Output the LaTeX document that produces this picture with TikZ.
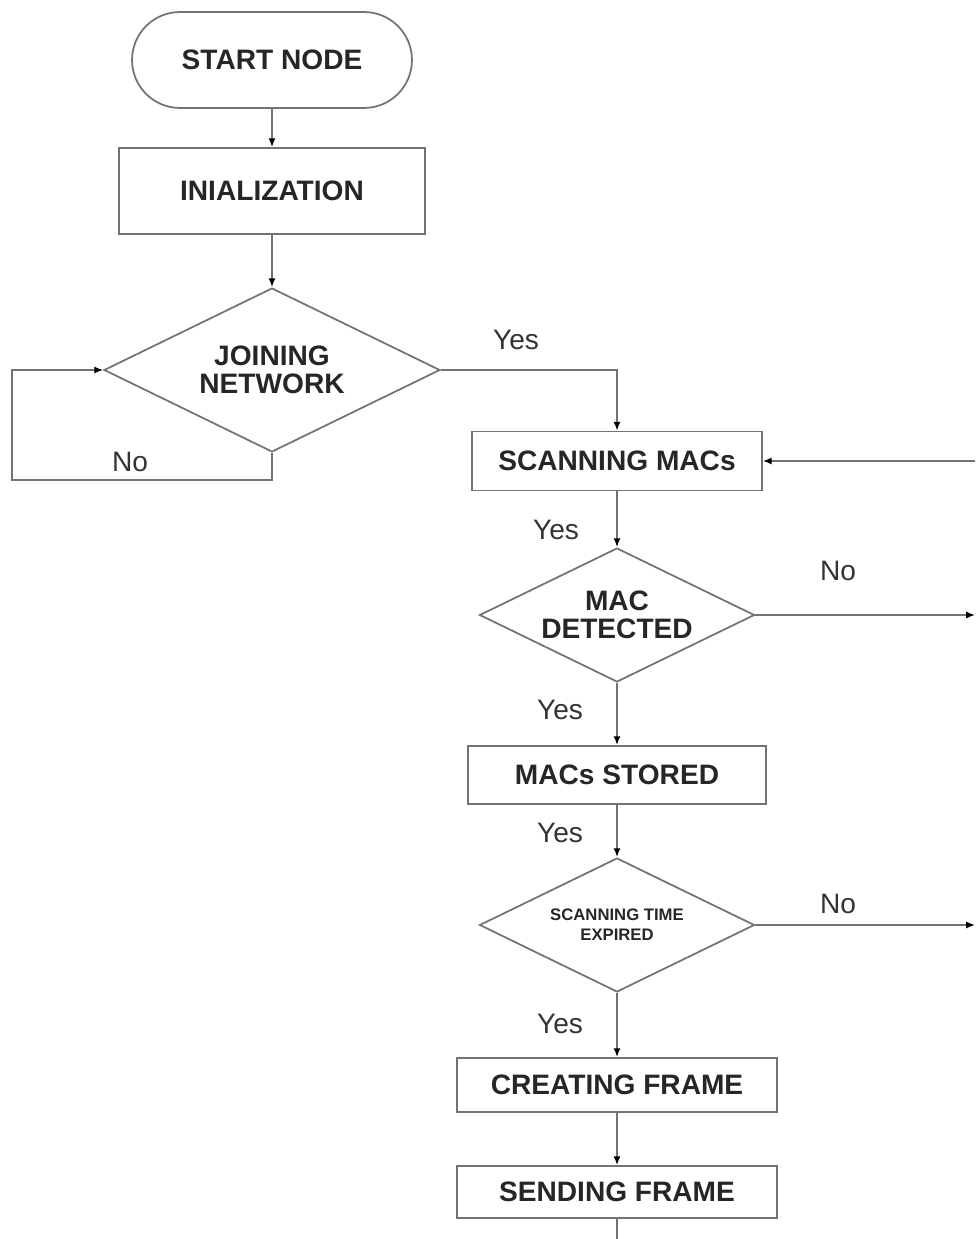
\documentclass[tikz,border=0pt]{standalone}
\usepackage{fontspec}
\setmainfont{Liberation Sans}
\usetikzlibrary{shapes.geometric,shapes.misc,arrows.meta}
\definecolor{linegray}{gray}{0.45}
\tikzset{
  box/.style={draw=linegray, line width=1pt, text=black!85, inner sep=0pt,
    font=\bfseries\fontsize{16}{16}\selectfont},
  proc/.style={box, rectangle},
  decide/.style={box, diamond, aspect=2.05, align=center},
  link/.style={draw=linegray, line width=0.9pt},
  flow/.style={link, -{Latex[length=5pt,width=4pt,black]}},
  lbl/.style={text=black!80, font=\fontsize{16}{16}\selectfont}
}

\begin{document}
\begin{tikzpicture}[x=0.02cm,y=-0.02cm]
\useasboundingbox (0,0) rectangle (975,1239);
% left column
\node[box, rounded rectangle, minimum width=5.6cm, minimum height=1.92cm] (start) at (272,60) {START NODE};
\node[proc, minimum width=6.12cm, minimum height=1.72cm] (init) at (272,191) {INIALIZATION};
\node[decide, minimum width=6.72cm, minimum height=3.28cm] (join) at (272,370) {JOINING\\NETWORK};
% right column
\node[proc, minimum width=5.8cm, minimum height=1.18cm] (scan) at (617,461) {SCANNING MACs};
\node[decide, minimum width=5.5cm, minimum height=2.68cm] (detect) at (617,615) {MAC\\DETECTED};
\node[proc, minimum width=5.96cm, minimum height=1.16cm] (stored) at (617,775) {MACs STORED};
\node[decide, minimum width=5.5cm, minimum height=2.68cm,
  font=\bfseries\fontsize{9.5}{11.3}\selectfont] (expire) at (617,925) {SCANNING TIME\\EXPIRED};
\node[proc, minimum width=6.4cm, minimum height=1.08cm] (create) at (617,1085) {CREATING FRAME};
\node[proc, minimum width=6.4cm, minimum height=1.04cm] (send) at (617,1192) {SENDING FRAME};

\coordinate (back) at (975,461);
\coordinate (outa) at (975,615);
\coordinate (outb) at (975,925);
\coordinate (down) at (617,1239);

\foreach \a/\b in {start/init, init/join, scan/detect, detect/stored, stored/expire, expire/create, create/send}
  \draw[flow] (\a) -- (\b);

\draw[flow] (join.east) -| (scan.north);
\draw[flow] (join.south) -- ++(0,27) -| (12,370) -- (join.west);
\draw[flow] (back) -- (scan.east);
\draw[flow] (detect.east) -- (outa);
\draw[flow] (expire.east) -- (outb);
\draw[link] (send.south) -- (down);

% labels
\node[lbl] (y1) at (516,340) {Yes};
\node[lbl] (n1) at (130,462) {No};
\node[lbl] (y2) at (556,530) {Yes};
\node[lbl] (n2) at (838,571) {No};
\node[lbl] (y3) at (560,710) {Yes};
\node[lbl] (y4) at (560,833) {Yes};
\node[lbl] (n3) at (838,904) {No};
\node[lbl] (y5) at (560,1024) {Yes};
\end{tikzpicture}
\end{document}
